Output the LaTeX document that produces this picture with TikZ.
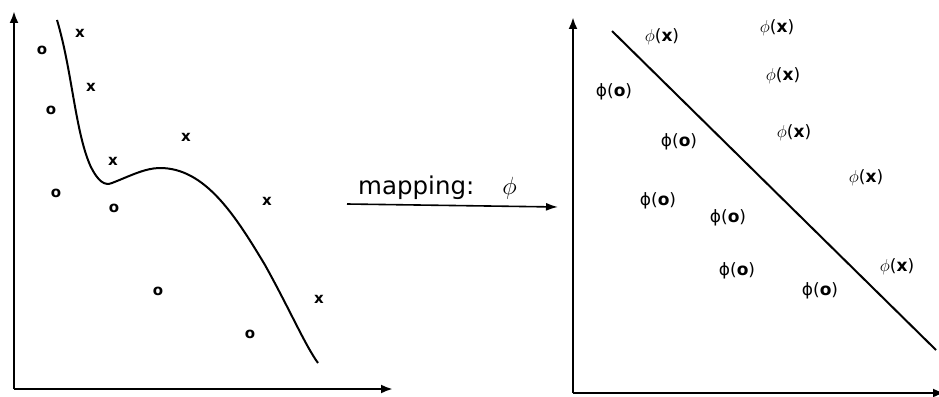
\documentclass[tikz,border=0pt]{standalone}
\usepackage{fontspec}
\setmainfont{DejaVu Sans}
\usetikzlibrary{arrows.meta}
\tikzset{
  axis/.style={line width=2.4pt,-{Latex[length=12pt,width=9pt]}},
  sep/.style={line width=2pt},
  pt/.style={font=\fontsize{15}{15}\selectfont\bfseries,inner sep=0pt},
  lab/.style={font=\fontsize{17}{17}\selectfont,inner sep=0pt},
}
\newcommand{\phix}{$\phi$(\textbf{x})}
\newcommand{\phio}{ϕ(\textbf{o})}
\begin{document}
\begin{tikzpicture}[x=1pt,y=-1pt]
\useasboundingbox (0,0) rectangle (939,396);
% left axes
\coordinate (lo) at (14,389);
\coordinate (ly) at (14,11);
\coordinate (lx) at (393,389);
\draw[axis] (lo) -- (ly);
\draw[axis] (lo) -- (lx);
% curve
\draw[sep] (57,20) .. controls (72,70) and (75,130) .. (90,165)
  .. controls (98,182) and (105,186) .. (112,183)
  .. controls (130,176) and (145,168) .. (160,168)
  .. controls (205,168) and (235,215) .. (265,265)
  .. controls (290,310) and (305,345) .. (318,363);
% left points
\node[pt] (x1) at (80,33) {x};
\node[pt] (o1) at (42,50) {o};
\node[pt] (x2) at (91,87) {x};
\node[pt] (o2) at (51,110) {o};
\node[pt] (x3) at (186,137) {x};
\node[pt] (x4) at (113,161) {x};
\node[pt] (o3) at (56,193) {o};
\node[pt] (o4) at (114,208) {o};
\node[pt] (x5) at (267,201) {x};
\node[pt] (o5) at (158,291) {o};
\node[pt] (x6) at (319,299) {x};
\node[pt] (o6) at (250,334) {o};
% mapping arrow
\node[font=\fontsize{24.5}{24.5}\selectfont,anchor=base west,inner sep=0pt] (map) at (358,194) {mapping:\hspace{28pt}{\fontsize{33}{33}\selectfont$\phi$}};
\coordinate (ma) at (347,204);
\coordinate (mb) at (558,207);
\draw[line width=1.6pt,-{Latex[length=12pt,width=8pt]}] (ma) -- (mb);
% right axes
\coordinate (ro) at (573,393);
\coordinate (ry) at (573,17);
\coordinate (rx) at (945,393);
\draw[axis] (ro) -- (ry);
\draw[axis] (ro) -- (rx);
% separating line
\coordinate (sa) at (612,31);
\coordinate (sb) at (936,350);
\draw[sep] (sa) -- (sb);
% right labels
\node[lab] (p1) at (662,37) {\phix};
\node[lab] (p2) at (777,28) {\phix};
\node[lab] (q1) at (614,92) {\phio};
\node[lab] (p3) at (783,76) {\phix};
\node[lab] (q2) at (679,142) {\phio};
\node[lab] (p4) at (794,133) {\phix};
\node[lab] (p5) at (866,178) {\phix};
\node[lab] (q3) at (658,201) {\phio};
\node[lab] (q4) at (728,218) {\phio};
\node[lab] (p6) at (897,267) {\phix};
\node[lab] (q5) at (737,271) {\phio};
\node[lab] (q6) at (820,291) {\phio};
\end{tikzpicture}
\end{document}
